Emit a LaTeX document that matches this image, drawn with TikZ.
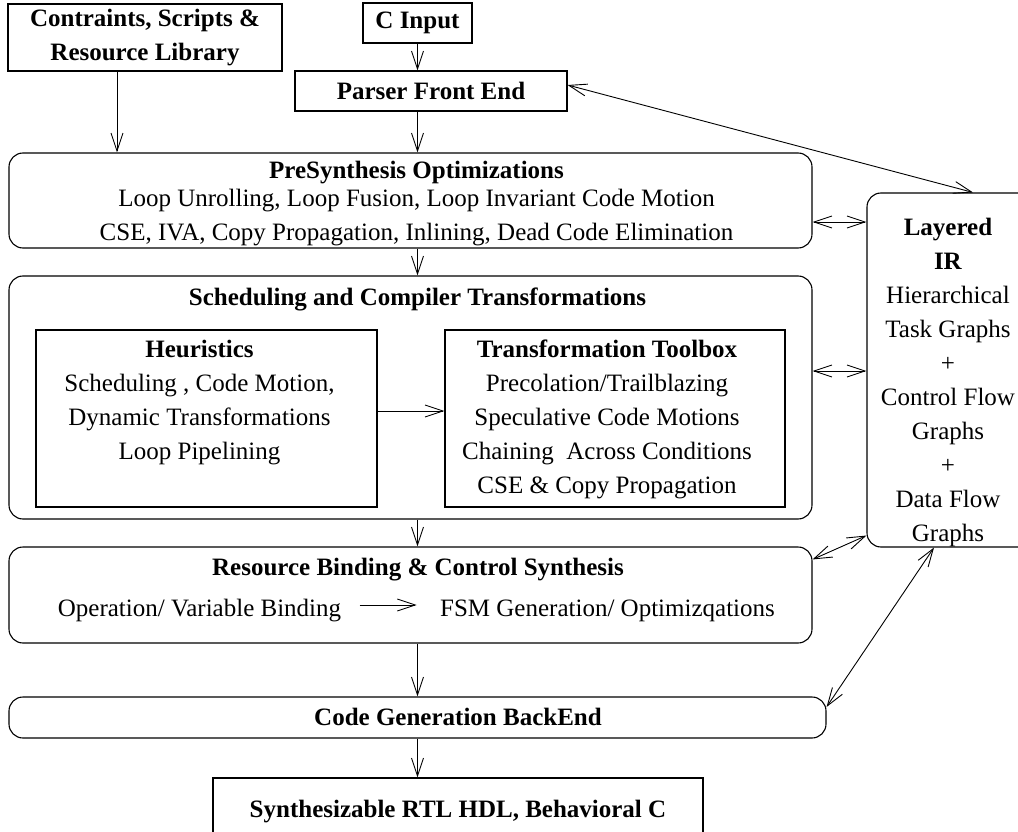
\documentclass[tikz,border=0pt]{standalone}
\usepackage{fontspec}
\setmainfont{Liberation Serif}
\usetikzlibrary{arrows.meta,positioning}

\begin{document}
\begin{tikzpicture}[x=1pt, y=-1pt, line width=0.9pt,
    every node/.style={font=\fontsize{25}{34}\selectfont},
    box/.style={draw, rectangle, line width=1.1pt, align=center, inner sep=4pt},
    stage/.style={box, rounded corners=14pt},
    txt/.style={align=center, inner sep=0pt},
    >={Straight Barb[length=18pt, width=12pt]}]
    \useasboundingbox (0,0) rectangle (1018,832);

    \node[box, minimum width=274, minimum height=67] (lib) at (145,37.5) {\textbf{Contraints, Scripts \&}\\\textbf{Resource Library}};
    \node[box, minimum width=109, minimum height=40] (cin) at (417.5,23) {\textbf{C Input}};
    \node[box, minimum width=272, minimum height=40] (parser) at (431,91) {\textbf{Parser Front End}};

    \node[stage, minimum width=803, minimum height=95] (presyn) at (410.5,200.5) {};
    \node[txt] (presyntext) at (416.5,204) {\textbf{PreSynthesis Optimizations}\\[-6pt]Loop Unrolling, Loop Fusion, Loop Invariant Code Motion\\CSE, IVA, Copy Propagation, Inlining, Dead Code Elimination};

    % scheduling block with its two inner boxes
    \node[stage, minimum width=803, minimum height=243] (sched) at (410.5,397.5) {};
    \node[txt] (schedtitle) at (417.5,299) {\textbf{Scheduling and Compiler Transformations}};
    \node[box, minimum width=341, minimum height=177] (heur) at (206.5,418.5) {};
    \node[txt, below=10pt of heur.north, xshift=-7pt] (heurtext) {\textbf{Heuristics}\\Scheduling , Code Motion,\\Dynamic Transformations\\Loop Pipelining};
    \node[box, minimum width=340, minimum height=177] (tool) at (615,418.5) {};
    \node[txt, below=10pt of tool.north, xshift=-8pt] (tooltext) {\textbf{Transformation Toolbox}\\Precolation/Trailblazing\\Speculative Code Motions\\Chaining\ \ Across Conditions\\CSE \& Copy Propagation};

    % binding block
    \node[stage, minimum width=803, minimum height=96] (bind) at (410.5,595) {};
    \node[txt] (bindtitle) at (418,570) {\textbf{Resource Binding \& Control Synthesis}};
    \node[txt] (opbind) at (199.5,611) {Operation/ Variable Binding};
    \node[txt] (fsm) at (607.5,611) {FSM Generation/ Optimizqations};

    \node[stage, minimum width=817, minimum height=41] (codegen) at (417.5,717.5) {};
    \node[txt] (codegentext) at (458,717) {\textbf{Code Generation BackEnd}};
    \node[box, minimum width=490, minimum height=68] (rtl) at (458,812) {\textbf{Synthesizable RTL HDL, Behavioral C}};

    % layered IR
    \node[stage, minimum width=173, minimum height=354] (ir) at (953.5,370) {};
    \node[txt, below=25pt of ir.north, xshift=-5.5pt] (irtext) {\textbf{Layered}\\\textbf{IR}\\Hierarchical\\Task Graphs\\+\\Control Flow\\Graphs\\+\\Data Flow\\Graphs};

    % main flow
    \draw[->] ([xshift=-28pt]lib.south) coordinate (libout) -- (libout |- presyn.north);
    \draw[->] (cin.south) -- (cin.south |- parser.north);
    \draw[->] (parser.south -| cin) -- (presyn.north -| cin);
    \draw[->] (presyn.south -| cin) -- (sched.north -| cin);
    \draw[->] ([yshift=7.5pt]heur.east) -- ([yshift=7.5pt]tool.west);
    \draw[->] (sched.south -| cin) -- (bind.north -| cin);
    \draw[->, shorten <=18pt, shorten >=23pt] ([yshift=6pt]opbind.east) -- ([yshift=6pt]fsm.west);
    \draw[->] (bind.south -| cin) -- (codegen.north -| cin);
    \draw[->] (codegen.south -| cin) -- (rtl.north -| cin);

    % links to the IR
    \draw[<->] ([yshift=6pt]parser.east) -- ([xshift=19.5pt]ir.north);
    \draw[<->] ([yshift=-21.5pt]presyn.east) coordinate (pa) -- (pa -| ir.west);
    \draw[<->] ([yshift=26.5pt]sched.east) coordinate (sa) -- (sa -| ir.west);
    \draw[<->] ([yshift=-13pt]bind.north east) -- ([yshift=12pt]ir.south west);
    \draw[<->] ([yshift=10.5pt]codegen.east) -- ([xshift=-19.5pt]ir.south);
\end{tikzpicture}
\end{document}
